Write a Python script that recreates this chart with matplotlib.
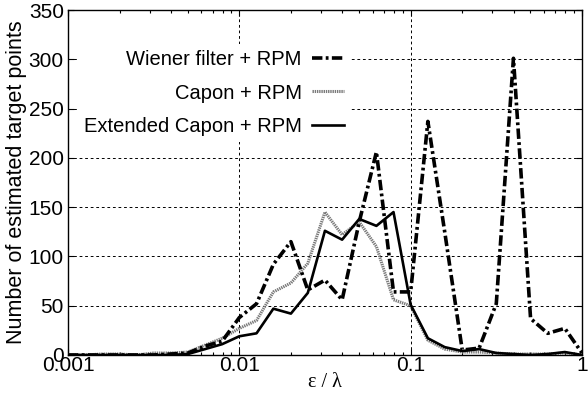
import matplotlib
matplotlib.use("Agg")
import matplotlib.pyplot as plt
from matplotlib.ticker import FixedLocator, NullFormatter, LogLocator

eps = [0.001, 0.00126, 0.00158, 0.002, 0.00251, 0.00316, 0.00398, 0.00501,
       0.00631, 0.00794, 0.01, 0.0126, 0.0158, 0.02, 0.0251, 0.0316, 0.0398,
       0.0501, 0.0631, 0.0794, 0.1, 0.126, 0.158, 0.2, 0.251, 0.316, 0.398,
       0.501, 0.631, 0.794, 1.0]

wiener = [0, 0, 0, 0, 0, 0, 1, 2, 9, 14, 38, 52, 92, 115, 66, 76, 56, 135,
          206, 64, 64, 237, 125, 5, 7, 52, 301, 37, 22, 27, 2]
capon = [0, 0, 1, 1, 0, 2, 2, 3, 10, 17, 27, 35, 64, 73, 93, 145, 122, 135,
         110, 56, 50, 15, 6, 3, 3, 2, 1, 1, 1, 2, 0]
ext_capon = [0, 0, 0, 0, 0, 0, 0, 1, 6, 11, 19, 22, 47, 42, 63, 126, 117, 138,
             131, 145, 51, 17, 8, 4, 6, 2, 1, 0, 1, 3, 0]

labels = ["Wiener filter + RPM", "Capon + RPM", "Extended Capon + RPM"]
xticks = [0.001, 0.01, 0.1, 1]
xticklabels = ["0.001", "0.01", "0.1", "1"]
yticks = [0, 50, 100, 150, 200, 250, 300, 350]

plt.rcParams['font.family'] = ['Liberation Sans', 'DejaVu Sans']
plt.rcParams['lines.scale_dashes'] = False

fig = plt.figure(figsize=(5.88, 3.94), dpi=100)
ax = fig.add_axes([68 / 588, 1 - 355 / 394, 514 / 588, 345 / 394])

l1, = ax.plot(eps, wiener, color='black', lw=2.6, label=labels[0], zorder=4)
l1.set_dashes((7.5, 2.4, 2.0, 2.4))
l2, = ax.plot(eps, capon, color='#7a7a7a', lw=2.2, label=labels[1], zorder=3)
l2.set_dashes((1.0, 0.6))
l3, = ax.plot(eps, ext_capon, color='black', lw=1.9, label=labels[2], zorder=5)

ax.set_xscale('log')
ax.set_xlim(0.001, 1)
ax.set_ylim(0, 350)
ax.xaxis.set_major_locator(FixedLocator(xticks))
ax.set_xticklabels(xticklabels)
ax.xaxis.set_minor_locator(LogLocator(base=10, subs=range(2, 10)))
ax.xaxis.set_minor_formatter(NullFormatter())
ax.set_yticks(yticks)

ax.tick_params(which='both', direction='in', top=True, right=True,
               labelsize=15, width=0.8)
ax.tick_params(which='major', length=4, pad=3)
ax.tick_params(axis='x', which='major', pad=1)
ax.tick_params(which='minor', length=2.5)

ax.grid(True, which='major', color='black', lw=0.7, linestyle=(0, (2, 2)))
for s in ax.spines.values():
    s.set_linewidth(1.0)

ax.set_ylabel("Number of estimated target points", fontsize=15.5, labelpad=1)
ax.set_xlabel("ε / λ", fontsize=14.5, family=['Liberation Serif', 'DejaVu Serif'],
              labelpad=-1.5)

leg = ax.legend(loc='upper right', bbox_to_anchor=((350 - 68) / 514, (355 - 44) / 345),
                markerfirst=False,
                fontsize=14.5, handlelength=1.6, handletextpad=0.5,
                labelspacing=0.72, frameon=True, fancybox=False,
                edgecolor='none', facecolor='white', framealpha=1,
                borderpad=0.3, borderaxespad=0.0)

fig.savefig("out.png", dpi=100)
